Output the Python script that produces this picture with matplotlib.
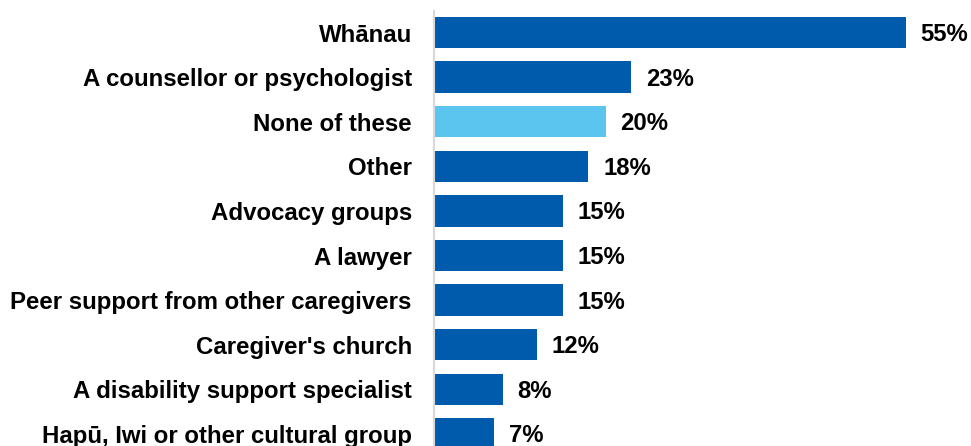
import matplotlib
matplotlib.use("Agg")
import matplotlib.pyplot as plt

# Who caregivers turned to for support (% of respondents)
categories = [
    "Whānau",
    "A counsellor or psychologist",
    "None of these",
    "Other",
    "Advocacy groups",
    "A lawyer",
    "Peer support from other caregivers",
    "Caregiver's church",
    "A disability support specialist",
    "Hapū, Iwi or other cultural group",
]
values = [55, 23, 20, 18, 15, 15, 15, 12, 8, 7]
highlight = "None of these"

dark_blue = "#005BAC"
light_blue = "#5BC5F0"

plt.rcParams["font.family"] = ["Liberation Sans", "DejaVu Sans"]

fig = plt.figure(figsize=(9.71, 4.46), dpi=100)
ax = fig.add_axes([434 / 971, 0, 537 / 971, 1])

colors = [light_blue if c == highlight else dark_blue for c in categories]
ypos = list(range(len(categories)))
ax.barh(ypos, values, height=0.70, color=colors, left=0)

for y, v in zip(ypos, values):
    ax.annotate(f"{v}%", xy=(v, y), xytext=(10.5, -1.5), textcoords="offset points",
                ha="left", va="center", fontsize=17.2, fontweight="bold", color="black")

ax.set_xlim(0, 537 / 8.58)
ax.set_ylim((446 - 32.5) / 44.6, -32.5 / 44.6)

ax.set_yticks(ypos)
ax.set_yticklabels(categories, fontsize=17.3, fontweight="bold")
ax.tick_params(axis="y", length=0, pad=16)
ax.set_xticks([])

for side in ["top", "right", "bottom"]:
    ax.spines[side].set_visible(False)
ax.spines["left"].set_color("#D9D9D9")
ax.spines["left"].set_linewidth(1.5)
ax.spines["left"].set_bounds(-0.48, 10)

fig.savefig("out.png", dpi=100)
